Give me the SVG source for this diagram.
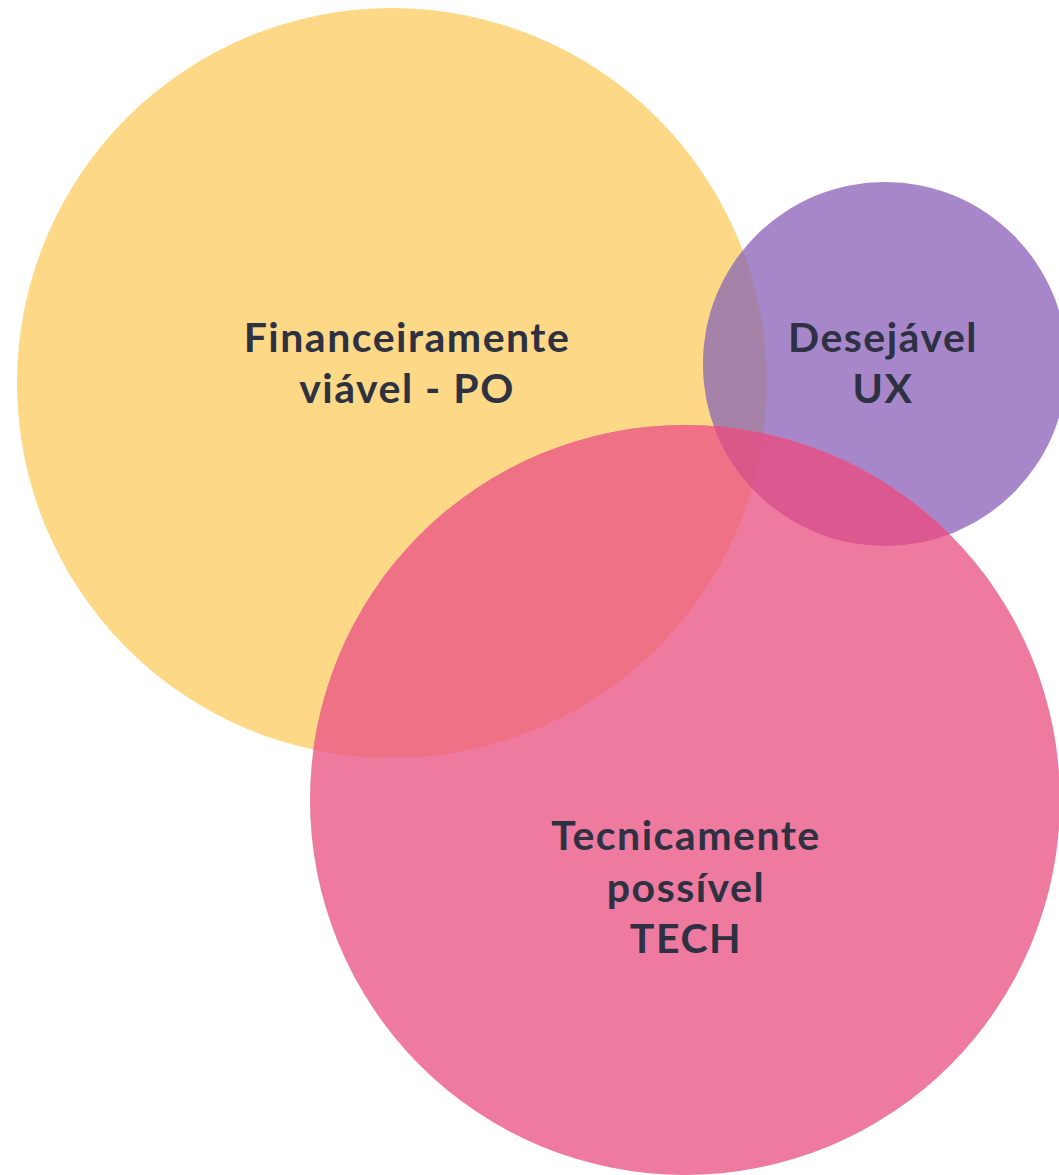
<svg xmlns="http://www.w3.org/2000/svg" width="1059" height="1175" viewBox="0 0 1059 1175">
<style>
text{font-family:Lato,"Noto Sans","Liberation Sans",sans-serif;font-weight:700;font-size:41px;letter-spacing:1.5px;fill:#2D3142;text-anchor:middle}
</style>
<defs>
<clipPath id="cy"><circle cx="392" cy="383" r="375"/></clipPath>
<clipPath id="cp"><circle cx="885" cy="364" r="182"/></clipPath>
</defs>
<rect width="1059" height="1175" fill="#FFFFFF"/>
<g id="financeiro">
<circle cx="392" cy="383" r="375" fill="#FDD886"/>
</g>
<g id="desejavel">
<circle cx="885" cy="364" r="182" fill="#A787C9"/>
<circle cx="885" cy="364" r="182" fill="#A583A9" clip-path="url(#cy)"/>
</g>
<g id="tecnico">
<circle cx="685" cy="800" r="375" fill="#EE7AA0"/>
<circle cx="685" cy="800" r="375" fill="#EE7185" clip-path="url(#cy)"/>
<circle cx="685" cy="800" r="375" fill="#DC5890" clip-path="url(#cp)"/>
<g clip-path="url(#cy)"><circle cx="685" cy="800" r="375" fill="#D9588A" clip-path="url(#cp)"/></g>
</g>
<g id="labels">
<text x="407" y="352">Financeiramente</text>
<text x="407" y="403">viável - PO</text>
<text x="883" y="352">Desejável</text>
<text x="883" y="403">UX</text>
<text x="686" y="850">Tecnicamente</text>
<text x="686" y="902">possível</text>
<text x="686" y="953">TECH</text>
</g>
<g id="connectors"></g>
</svg>
